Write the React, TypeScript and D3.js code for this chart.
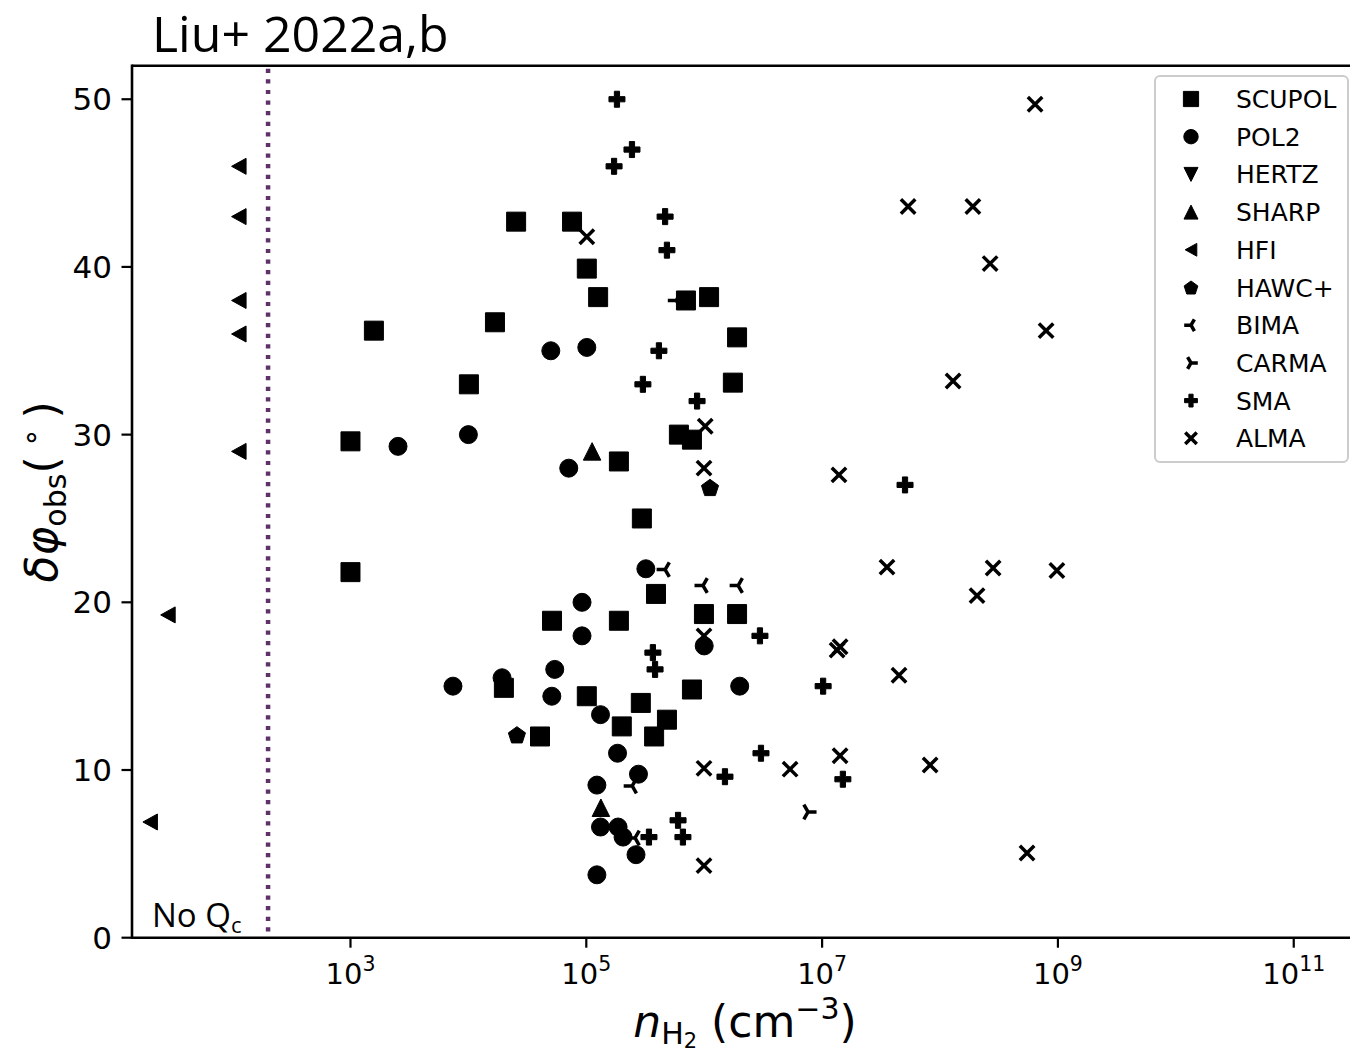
import React from "react";
import * as d3 from "d3";

// ---------- data: [n_H2 (cm^-3), delta phi_obs (deg)] ----------
const SCUPOL: [number, number][] = [
  [2.54e4, 42.7], [7.57e4, 42.7], [1.01e5, 39.9], [1.26e5, 38.2], [1.58e3, 36.2],
  [1.68e4, 36.7], [1.01e4, 33.0], [1.0e3, 29.6], [1.0e3, 21.8], [7.0e5, 38.0],
  [1.1e6, 38.2], [1.9e6, 35.8], [1.75e6, 33.1], [6.1e5, 30.0], [7.87e5, 29.7],
  [1.89e5, 28.4], [2.96e5, 25.0], [3.9e5, 20.5], [9.95e5, 19.3], [1.9e6, 19.3],
  [5.12e4, 18.9], [1.89e5, 18.9], [2.0e4, 14.9], [1.01e5, 14.4], [2.9e5, 14.0],
  [4.83e5, 13.0], [2.0e5, 12.6], [3.76e5, 12.0], [4.05e4, 12.0], [7.87e5, 14.8],
];
const POL2: [number, number][] = [
  [5.0e4, 35.0], [1.01e5, 35.2], [1.0e4, 30.0], [2.53e3, 29.3], [7.1e4, 28.0],
  [3.2e5, 22.0], [9.2e4, 20.0], [9.2e4, 18.0], [1.0e6, 17.4], [1.93e4, 15.5],
  [7.4e3, 15.0], [5.4e4, 16.0], [5.1e4, 14.4], [2.0e6, 15.0], [1.32e5, 13.3],
  [1.84e5, 11.0], [2.77e5, 9.75], [1.23e5, 9.1], [1.32e5, 6.6], [1.86e5, 6.6],
  [2.05e5, 6.0], [2.64e5, 4.95], [1.23e5, 3.75],
];
const HERTZ: [number, number][] = [];
const SHARP: [number, number][] = [[1.12e5, 29.0], [1.33e5, 7.75]];
const HFI: [number, number][] = [
  [113, 46.0], [113, 43.0], [113, 38.0], [113, 36.0], [113, 29.0], [28.3, 19.25], [20, 6.9],
];
const HAWC: [number, number][] = [[1.12e6, 26.85], [2.58e4, 12.1]];
const BIMA: [number, number][] = [
  [4.66e5, 21.95], [9.77e5, 21.0], [1.94e6, 21.0], [5.8e5, 38.0], [2.45e5, 9.05], [2.59e5, 5.95],
];
const CARMA: [number, number][] = [[7.6e6, 7.5]];
const SMA: [number, number][] = [
  [1.82e5, 50.0], [2.44e5, 47.0], [1.72e5, 46.0], [4.66e5, 43.0], [4.83e5, 41.0],
  [4.13e5, 35.0], [3.02e5, 33.0], [8.7e5, 32.0], [5.05e7, 27.0], [3.67e5, 17.0],
  [3.83e5, 16.0], [2.97e6, 18.0], [1.02e7, 15.0], [3.03e6, 11.0], [1.5e6, 9.6],
  [1.5e7, 9.45], [6.0e5, 7.0], [6.6e5, 6.0], [3.4e5, 6.0],
];
const ALMA: [number, number][] = [
  [6.4e8, 49.7], [5.36e7, 43.6], [1.9e8, 43.6], [2.66e8, 40.2], [7.94e8, 36.2],
  [1.29e8, 33.2], [1.39e7, 27.6], [3.55e7, 22.1], [2.82e8, 22.05], [9.8e8, 21.9],
  [2.06e8, 20.4], [1.34e7, 17.15], [1.42e7, 17.35], [4.49e7, 15.65], [9.96e5, 18.0],
  [9.96e5, 10.1], [5.35e6, 10.05], [1.42e7, 10.85], [8.24e7, 10.3], [5.47e8, 5.05],
  [9.96e5, 4.3], [1.02e6, 30.5], [9.96e5, 28.0], [1.01e5, 41.8],
];

const X_TICK_EXPONENTS = [3, 5, 7, 9, 11];
const Y_TICKS = [0, 10, 20, 30, 40, 50];
const NO_QC_DENSITY = 200;

type Kind = "square" | "circle" | "tdown" | "tup" | "tleft" | "pent" | "y3" | "y4" | "plus" | "x";

const SERIES: { name: string; data: [number, number][]; kind: Kind }[] = [
  { name: "SCUPOL", data: SCUPOL, kind: "square" },
  { name: "POL2", data: POL2, kind: "circle" },
  { name: "HERTZ", data: HERTZ, kind: "tdown" },
  { name: "SHARP", data: SHARP, kind: "tup" },
  { name: "HFI", data: HFI, kind: "tleft" },
  { name: "HAWC+", data: HAWC, kind: "pent" },
  { name: "BIMA", data: BIMA, kind: "y3" },
  { name: "CARMA", data: CARMA, kind: "y4" },
  { name: "SMA", data: SMA, kind: "plus" },
  { name: "ALMA", data: ALMA, kind: "x" },
];

const STROKED: Record<string, boolean> = { y3: true, y4: true, x: true };

function markerPath(kind: Kind, s: number): string {
  const p = d3.path();
  if (kind === "square") {
    const a = 9.5 * s;
    p.rect(-a, -a, 2 * a, 2 * a);
  } else if (kind === "circle") {
    const r = 9 * s;
    p.moveTo(r, 0);
    p.arc(0, 0, r, 0, 2 * Math.PI);
    p.closePath();
  } else if (kind === "tup" || kind === "tdown") {
    const w = 17.5 * s, h = 17.5 * s;
    const sg = kind === "tup" ? 1 : -1;
    p.moveTo(0, (-sg * h) / 2);
    p.lineTo(-w / 2, (sg * h) / 2);
    p.lineTo(w / 2, (sg * h) / 2);
    p.closePath();
  } else if (kind === "tleft") {
    const w = 14.5 * s, h = 16 * s;
    p.moveTo(-w / 2, 0);
    p.lineTo(w / 2, -h / 2);
    p.lineTo(w / 2, h / 2);
    p.closePath();
  } else if (kind === "pent") {
    const r = 9 * s;
    for (let k = 0; k < 5; k++) {
      const a = -Math.PI / 2 + (k * 2 * Math.PI) / 5;
      const px = r * Math.cos(a), py = r * Math.sin(a) + r * 0.095;
      if (k === 0) p.moveTo(px, py);
      else p.lineTo(px, py);
    }
    p.closePath();
  } else if (kind === "y3" || kind === "y4") {
    const r = 8.5 * s;
    const sg = kind === "y3" ? 1 : -1;
    p.moveTo(0, 0); p.lineTo(-sg * r, 0);
    p.moveTo(0, 0); p.lineTo((sg * r) / 2, -r * 0.866);
    p.moveTo(0, 0); p.lineTo((sg * r) / 2, r * 0.866);
  } else if (kind === "plus") {
    const L = 8 * s, t = 2.6 * s;
    p.moveTo(-t, -L); p.lineTo(t, -L); p.lineTo(t, -t); p.lineTo(L, -t);
    p.lineTo(L, t); p.lineTo(t, t); p.lineTo(t, L); p.lineTo(-t, L);
    p.lineTo(-t, t); p.lineTo(-L, t); p.lineTo(-L, -t); p.lineTo(-t, -t);
    p.closePath();
  } else if (kind === "x") {
    const a = 7.2 * s;
    p.moveTo(-a, -a); p.lineTo(a, a);
    p.moveTo(-a, a); p.lineTo(a, -a);
  }
  return p.toString();
}

function Marker({ kind, x, y, s }: { kind: Kind; x: number; y: number; s: number }) {
  const stroked = STROKED[kind];
  return (
    <path
      d={markerPath(kind, s)}
      transform={`translate(${x},${y})`}
      fill={stroked ? "none" : "#000"}
      stroke="#000"
      strokeWidth={stroked ? 3.5 : 1}
      strokeLinejoin="miter"
    />
  );
}

const SANS = "'DejaVu Sans', sans-serif";
const TITLE_FONT = "'Open Sans', 'Noto Sans', sans-serif";

export default function App() {
  const left = 132, right = 1358, top = 65.7, bottom = 937.7;
  const x = d3.scaleLog().domain([Math.pow(10, 1.147), Math.pow(10, 11.545)]).range([left, right]);
  const y = d3.scaleLinear().domain([0, 52]).range([bottom, top]);

  const legX = 1155, legY = 76, legW = 193, legH = 386;
  const rowY0 = 99, rowStep = 37.7;

  return (
    <svg
      width={1350}
      height={1056}
      style={{ position: "absolute", left: 0, top: 0, background: "#fff" }}
      xmlns="http://www.w3.org/2000/svg"
    >
      <rect x={0} y={0} width={1350} height={1056} fill="#fff" />
      {/* title */}
      <text x={152} y={52} fontFamily={TITLE_FONT} fontSize={50} fill="#000">
        Liu+ 2022a,b
      </text>

      {/* No Qc line */}
      <line
        x1={x(NO_QC_DENSITY)}
        x2={x(NO_QC_DENSITY)}
        y1={top + 3}
        y2={bottom - 2}
        stroke="#5e3266"
        strokeWidth={4.5}
        strokeDasharray="4.2 6.4"
      />
      <text x={152} y={927} fontFamily={TITLE_FONT} fontSize={33} fill="#000">
        No Q<tspan fontSize={22} dy={6}>c</tspan>
      </text>

      {/* markers */}
      {SERIES.map((sr) =>
        sr.data.map((d, i) => (
          <Marker key={sr.name + i} kind={sr.kind} x={x(d[0])} y={y(d[1])} s={1} />
        ))
      )}

      {/* axes spines */}
      <line x1={left} x2={1350} y1={top} y2={top} stroke="#000" strokeWidth={2.6} />
      <line x1={left} x2={1350} y1={bottom} y2={bottom} stroke="#000" strokeWidth={2.6} />
      <line x1={left} x2={left} y1={top - 1.3} y2={bottom + 1.3} stroke="#000" strokeWidth={2.6} />

      {/* y ticks */}
      {Y_TICKS.map((t) => (
        <g key={"y" + t}>
          <line x1={left - 10.5} x2={left} y1={y(t)} y2={y(t)} stroke="#000" strokeWidth={2.2} />
          <text x={left - 20} y={y(t) + 11} textAnchor="end" fontFamily={SANS} fontSize={31} fill="#000">
            {t}
          </text>
        </g>
      ))}

      {/* x ticks */}
      {X_TICK_EXPONENTS.map((e) => {
        const px = x(Math.pow(10, e));
        return (
          <g key={"x" + e}>
            <line x1={px} x2={px} y1={bottom} y2={bottom + 10} stroke="#000" strokeWidth={2.2} />
            <text x={px} y={984} textAnchor="middle" fontFamily={SANS} fontSize={29} fill="#000">
              10<tspan fontSize={20.5} dy={-13}>{e}</tspan>
            </text>
          </g>
        );
      })}

      {/* x label */}
      <text x={(left + right) / 2} y={1037} textAnchor="middle" fontFamily={SANS} fontSize={44} fill="#000">
        <tspan fontStyle="italic">n</tspan>
        <tspan fontSize={30} dy={7}>H</tspan>
        <tspan fontSize={21} dy={4}>2</tspan>
        <tspan dy={-11}> (cm</tspan>
        <tspan fontSize={30} dy={-18}>−3</tspan>
        <tspan dy={18}>)</tspan>
      </text>

      {/* y label */}
      <text
        transform={`translate(57, 492) rotate(-90)`}
        textAnchor="middle"
        fontFamily={SANS}
        fontSize={44}
        fill="#000"
      >
        <tspan fontStyle="italic">δφ</tspan>
        <tspan fontSize={30} dy={9}>obs</tspan>
        <tspan dy={-9}>(</tspan>
        <tspan fontSize={30} dy={-16}> ∘ </tspan>
        <tspan dy={16}>)</tspan>
      </text>

      {/* legend */}
      <rect
        x={legX}
        y={legY}
        width={legW}
        height={legH}
        rx={5}
        fill="#fff"
        fillOpacity={0.8}
        stroke="#cccccc"
        strokeWidth={2}
      />
      {SERIES.map((sr, i) => {
        const ry = rowY0 + i * rowStep;
        return (
          <g key={"leg" + sr.name}>
            <Marker kind={sr.kind} x={1191} y={ry} s={0.8} />
            <text x={1236} y={ry + 9} fontFamily={SANS} fontSize={25} fill="#000">
              {sr.name}
            </text>
          </g>
        );
      })}
    </svg>
  );
}
